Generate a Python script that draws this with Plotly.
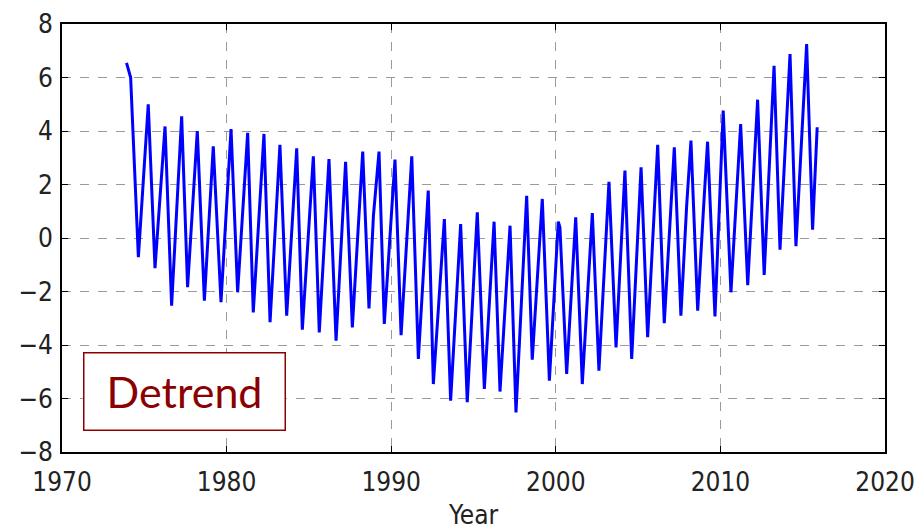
import plotly.graph_objects as go

# Seasonal maxima of the detrended series (decimal year, value)
peak_years = [1973.92, 1975.24, 1976.26, 1977.27, 1978.22, 1979.19, 1980.27, 1981.28,
              1982.27, 1983.24, 1984.26, 1985.27, 1986.22, 1987.23, 1988.27, 1989.26,
              1990.23, 1991.25, 1992.25, 1993.23, 1994.22, 1995.23, 1996.25, 1997.22,
              1998.23, 1999.18, 2000.15, 2001.21, 2002.22, 2003.23, 2004.20, 2005.18,
              2006.19, 2007.20, 2008.21, 2009.22, 2010.17, 2011.23, 2012.26, 2013.26,
              2014.23, 2015.24]
peak_values = [6.55, 5.00, 4.17, 4.55, 4.00, 3.43, 4.07, 3.93,
               3.89, 3.48, 3.35, 3.05, 2.95, 2.85, 3.23, 3.23,
               2.93, 3.05, 1.77, 0.71, 0.52, 0.96, 0.61, 0.46,
               1.58, 1.46, 0.61, 0.77, 0.93, 2.10, 2.52, 2.64,
               3.48, 3.39, 3.64, 3.60, 4.76, 4.26, 5.17, 6.44,
               6.88, 7.25]

# Seasonal minima
trough_years = [1974.64, 1975.65, 1976.66, 1977.63, 1978.65, 1979.66, 1980.67, 1981.62,
                1982.64, 1983.65, 1984.60, 1985.63, 1986.65, 1987.64, 1988.65, 1989.58,
                1990.60, 1991.65, 1992.56, 1993.61, 1994.62, 1995.66, 1996.61, 1997.58,
                1998.57, 1999.61, 2000.66, 2001.61, 2002.62, 2003.66, 2004.61, 2005.58,
                2006.59, 2007.60, 2008.62, 2009.67, 2010.64, 2011.66, 2012.66, 2013.62,
                2014.59, 2015.60]
trough_values = [-0.72, -1.13, -2.53, -1.84, -2.34, -2.40, -2.03, -2.78,
                 -3.15, -2.90, -3.43, -3.53, -3.84, -3.34, -2.63, -3.21,
                 -3.63, -4.52, -5.46, -6.08, -6.14, -5.64, -5.74, -6.52,
                 -4.55, -5.33, -5.08, -5.46, -4.96, -4.09, -4.52, -3.71,
                 -3.18, -2.90, -2.72, -2.93, -2.03, -1.76, -1.38, -0.44,
                 -0.31, 0.31]

# Intermediate shoulders and the final sample
shoulder_years = [1974.17, 1977.98, 1988.92, 2000.25, 2007.95, 2008.96, 2013.92, 2014.94, 2015.88]
shoulder_values = [6.00, 1.71, 0.83, 0.40, 1.21, 0.96, 3.33, 3.89, 4.14]

x_ticks = [1970, 1980, 1990, 2000, 2010, 2020]
y_ticks = [-8, -6, -4, -2, 0, 2, 4, 6, 8]

points = sorted(zip(peak_years + trough_years + shoulder_years,
                    peak_values + trough_values + shoulder_values))
years = [p[0] for p in points]
values = [p[1] for p in points]

fig = go.Figure()
fig.add_trace(go.Scatter(
    x=years, y=values, mode="lines",
    line=dict(color="#0000ff", width=3),
    hoverinfo="skip", showlegend=False,
))

tick_font = dict(family="DejaVu Sans Condensed, DejaVu Sans, sans-serif", size=26, color="#222222")
axis_common = dict(
    showline=True, linecolor="black", linewidth=1.6, mirror="allticks",
    ticks="inside", ticklen=6, tickwidth=1.2, tickcolor="black",
    showgrid=True, gridcolor="#9a9a9a", griddash="dash", gridwidth=1,
    zeroline=False, tickfont=tick_font, automargin=False,
)

fig.update_xaxes(
    range=[1970, 2020], tickvals=x_ticks, ticktext=[str(t) for t in x_ticks],
    ticklabelstandoff=6,
    title=dict(text="Year", font=tick_font, standoff=14),
    **axis_common,
)
fig.update_yaxes(
    range=[-8, 8], tickvals=y_ticks,
    ticktext=[("\u2212" + str(-t)) if t < 0 else str(t) for t in y_ticks],
    ticklabelstandoff=2,
    **axis_common,
)

fig.add_annotation(
    x=1977.44, y=-5.72, xref="x", yref="y",
    text="Detrend", showarrow=False,
    font=dict(family="Lato, Open Sans, sans-serif", size=43, color="#8b0000"),
    bordercolor="#8b0000", borderwidth=1.5, borderpad=0,
    bgcolor="white", width=200, height=76,
    xanchor="center", yanchor="middle",
)

fig.update_layout(
    width=919, height=530,
    margin=dict(l=62, r=34, t=24, b=78),
    paper_bgcolor="white", plot_bgcolor="white",
)

fig.write_html("out.html")
